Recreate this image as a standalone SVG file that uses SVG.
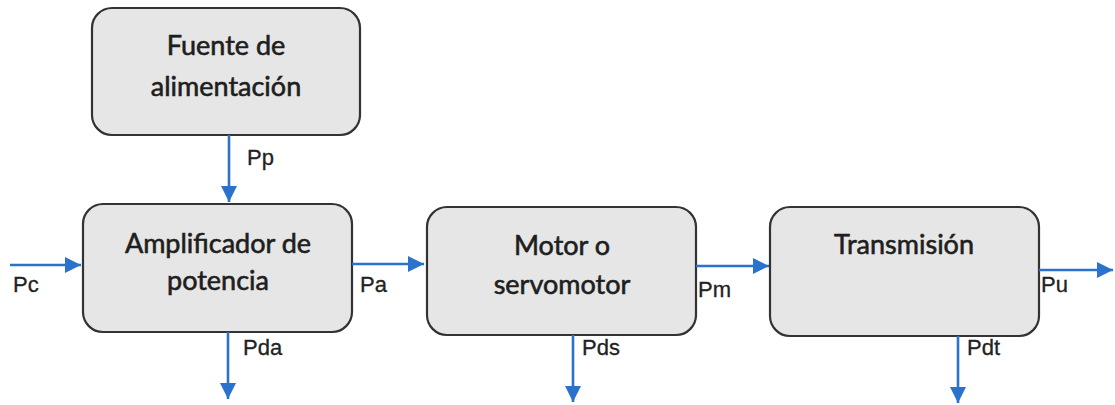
<svg xmlns="http://www.w3.org/2000/svg" width="1115" height="405" viewBox="0 0 1115 405">
  <style>
    .box { fill: #e6e6e6; stroke: #333333; stroke-width: 2.2; }
    .title { font-family: Lato, "Liberation Sans", sans-serif; font-size: 27px; fill: #1e1e1e; stroke: #1e1e1e; stroke-width: 0.6; text-anchor: middle; }
    .flow { stroke: #2a72cc; stroke-width: 2.6; fill: none; marker-end: url(#head); }
    .lbl { font-family: "Liberation Sans", Arial, sans-serif; font-size: 22px; fill: #222222; stroke: #222222; stroke-width: 0.3; }
  </style>
  <defs>
    <marker id="head" viewBox="0 0 10 10" refX="10" refY="5" markerWidth="16" markerHeight="16" markerUnits="userSpaceOnUse" orient="auto">
      <path d="M0,0 L10,5 L0,10 Z" fill="#2a72cc"/>
    </marker>
  </defs>
  <rect width="1115" height="405" fill="#ffffff"/>

  <g id="fuente">
    <rect class="box" x="92" y="8" width="268" height="127" rx="20" ry="20"/>
    <text class="title" x="226" y="55">Fuente de</text>
    <text class="title" x="226" y="96">alimentación</text>
  </g>

  <g id="amplificador">
    <rect class="box" x="83" y="204" width="269" height="128" rx="20" ry="20"/>
    <text class="title" x="218" y="253">Amplificador de</text>
    <text class="title" x="218" y="290">potencia</text>
  </g>

  <g id="motor">
    <rect class="box" x="427" y="207" width="269" height="128" rx="20" ry="20"/>
    <text class="title" x="562" y="255">Motor o</text>
    <text class="title" x="562" y="294">servomotor</text>
  </g>

  <g id="transmision">
    <rect class="box" x="770" y="207" width="269" height="129" rx="20" ry="20"/>
    <text class="title" x="904" y="254">Transmisión</text>
  </g>

  <g id="connectors">
    <line class="flow" x1="229" y1="135" x2="229" y2="202"/>
    <line class="flow" x1="10" y1="265" x2="81" y2="265"/>
    <line class="flow" x1="352" y1="264" x2="424" y2="264"/>
    <line class="flow" x1="228" y1="332" x2="228" y2="399"/>
    <line class="flow" x1="696" y1="266" x2="769" y2="266"/>
    <line class="flow" x1="573" y1="335" x2="573" y2="402"/>
    <line class="flow" x1="1039" y1="270" x2="1113" y2="270"/>
    <line class="flow" x1="958" y1="336" x2="958" y2="403"/>
  </g>

  <g id="labels">
    <text class="lbl" x="247" y="165">Pp</text>
    <text class="lbl" x="13" y="292">Pc</text>
    <text class="lbl" x="360" y="292">Pa</text>
    <text class="lbl" x="243" y="355">Pda</text>
    <text class="lbl" x="698" y="297">Pm</text>
    <text class="lbl" x="582" y="355">Pds</text>
    <text class="lbl" x="1041" y="292">Pu</text>
    <text class="lbl" x="967" y="355">Pdt</text>
  </g>
</svg>
